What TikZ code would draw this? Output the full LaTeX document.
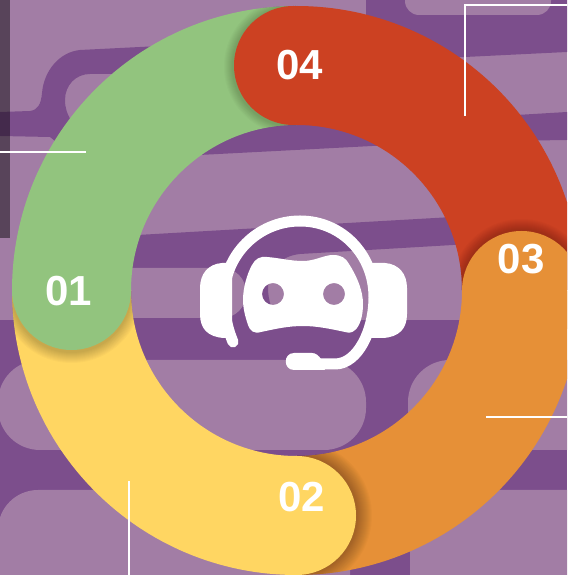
\documentclass[tikz,border=0pt]{standalone}
\usepackage{fontspec}
\setmainfont{Liberation Sans}
\definecolor{bgdark}{HTML}{7C4E8C}
\definecolor{bglight}{HTML}{A27DA5}
\definecolor{cgreen}{HTML}{92C47E}
\definecolor{cred}{HTML}{CC4122}
\definecolor{corange}{HTML}{E69037}
\definecolor{cyellow}{HTML}{FFD662}
\tikzset{
  imgpx/.style={yshift=575pt,yscale=-1},
  pill/.style={fill=bglight,draw=none,rounded corners=#1},
  dk/.style={fill=bgdark,draw=none},
  seg/.style={line width=119pt,line cap=butt},
  numlabel/.style={text=white,font=\fontsize{42}{42}\selectfont\bfseries,inner sep=0pt},
  whitehair/.style={draw=white,line width=1.4pt},
  icon/.style={fill=white,draw=none},
  iconline/.style={draw=white,line cap=round,line join=round}
}
\def\cx{296.5}\def\cy{284.5}\def\rm{225}
\newcommand{\capshadow}[5]{%
  \begin{scope}
    \clip ([shift={(\cx,\cy)}]#3:284.5) arc[start angle=#3,end angle=#4,radius=284.5]
      -- ([shift={(\cx,\cy)}]#4:165.5) arc[start angle=#4,end angle=#3,radius=165.5] -- cycle;
    \foreach \r in {1,...,#5}{\fill[black,opacity=0.02] (#1,#2) circle ({59.5+\r});}
  \end{scope}}
\begin{document}
\begin{tikzpicture}[x=1pt,y=1pt]
\useasboundingbox (0,0) rectangle (567,575);
\clip (0,0) rectangle (567,575);
\fill[bglight] (0,0) rectangle (567,575);
\begin{scope}[imgpx]
  % upper left winding band
  \fill[dk] (0,112) -- (30,111) .. controls (38,110) and (41,104) .. (42,93)
     .. controls (44,70) and (60,52) .. (80,50) -- (160,46) -- (170,74) -- (90,74)
     .. controls (76,74) and (65,85) .. (65,100) .. controls (65,108) and (67,114) .. (72,122)
     -- (60,145) -- (50,137) -- (0,136) -- cycle;
  % band just inside the ring, at the top
  \fill[dk] (180,120) -- (430,120) -- (430,143) -- (180,156) -- cycle;
  % upper right
  \fill[dk] (366,-5) -- (567,-5) -- (567,52) -- (465,57) -- (366,62) -- cycle;
  \fill[pill=14pt] (405,-30) rectangle (551,15);
  \fill[dk] (500,116) -- (567,112) -- (567,140) -- (500,141) -- cycle;
  % central band
  \fill[dk] (120,236) -- (470,216) -- (470,244) -- (300,254)
     .. controls (280,256) and (268,270) .. (268,288) .. controls (268,300) and (272,312) .. (280,325)
     -- (120,325) -- cycle;
  \fill[pill=24pt] (60,268) rectangle (246,318);
  % lower bands and pills
  \fill[dk] (0,320) rectangle (567,575);
  \fill[pill=42pt] (-2,360) rectangle (366,450);
  \fill[pill=42pt] (408,360) rectangle (660,450);
  \fill[pill=40pt] (-2,490) rectangle (350,640);
  \fill[pill=60pt] (410,490) rectangle (660,660);
  % dark strip at left
  \fill[black,opacity=0.45] (0,0) rectangle (10,238);
\end{scope}
% ring
\draw[seg,cgreen] (\cx-\rm,\cy) arc[start angle=180,end angle=90,radius=\rm];
\draw[seg,cred] (\cx,\cy+\rm) arc[start angle=90,end angle=0,radius=\rm];
\draw[seg,corange] (\cx+\rm,\cy) arc[start angle=0,end angle=-90,radius=\rm];
\draw[seg,cyellow] (\cx,\cy-\rm) arc[start angle=270,end angle=180,radius=\rm];
% soft shadows and round heads
\capshadow{\cx-4}{\cy+\rm-1}{180}{90}{9}
\fill[cred] (\cx-3,\cy+\rm) circle (59.5);
\capshadow{\cx+\rm}{\cy+1}{90}{0}{11}
\capshadow{\cx+1}{\cy-\rm}{0}{-90}{15}
\capshadow{\cx-\rm}{\cy-2}{270}{180}{11}
\fill[corange] (\cx+\rm,\cy) circle (59.5);
\fill[cyellow] (\cx,\cy-\rm) circle (59.5);
\fill[cgreen] (\cx-\rm,\cy) circle (59.5);
% hair lines
\begin{scope}[imgpx]
  \coordinate (h1a) at (0,152);   \coordinate (h1b) at (86,152);
  \coordinate (h2a) at (129,575); \coordinate (h2b) at (129,481);
  \coordinate (h3a) at (567,417); \coordinate (h3b) at (486,417);
  \coordinate (h4a) at (567,5);   \coordinate (h4b) at (465,5);  \coordinate (h4c) at (465,116);
\end{scope}
\draw[whitehair] (h1a) -- (h1b);
\draw[whitehair] (h2a) -- (h2b);
\draw[whitehair] (h3a) -- (h3b);
\draw[whitehair] (h4a) -- (h4b) -- (h4c);
% headset icon
\begin{scope}[imgpx]
  % ears
  \fill[icon] (232,263) -- (222,263) .. controls (208,264) and (200,274) .. (200,288)
     -- (200,314) .. controls (200,329) and (208,337) .. (224,338) -- (232,338) -- cycle;
  \fill[icon] (372,263) -- (385,263) .. controls (399,264) and (407,274) .. (407,288)
     -- (407,314) .. controls (407,329) and (399,337) .. (383,338) -- (370,338) -- cycle;
  % head band with tail
  \draw[iconline,line width=11pt] (233,342) .. controls (228,330) and (224,315) .. (224,297)
     .. controls (224,255) and (258,221) .. (300,221)
     .. controls (342,221) and (374,255) .. (374,297)
     .. controls (374,330) and (358,364) .. (335,364) -- (315,364);
  % microphone
  \fill[icon] (294,353) -- (312,353) .. controls (316,353) and (319,356) .. (321,359) -- (325,370)
     -- (294,370) .. controls (283,370) and (283,353) .. (294,353) -- cycle;
  % face with two eyes
  \fill[icon,even odd rule] (267,257) .. controls (280,258) and (290,261) .. (303,261)
     .. controls (315,261) and (324,255) .. (333,255)
     .. controls (341,255) and (346,258) .. (349,264)
     .. controls (358,278) and (363,292) .. (363,304)
     .. controls (363,316) and (360,326) .. (355,330)
     .. controls (352,333) and (349,333) .. (345,332)
     .. controls (331,329) and (317,326) .. (303,326)
     .. controls (288,326) and (275,329) .. (261,332)
     .. controls (254,334) and (250,331) .. (248,325)
     .. controls (245,316) and (243,308) .. (243,300)
     .. controls (243,288) and (247,274) .. (252,265)
     .. controls (255,259) and (260,256) .. (267,257) -- cycle
     (273,294) circle (11) (334,294) circle (11);
\end{scope}
% labels
\begin{scope}[imgpx]
  \coordinate (p1) at (69,291); \coordinate (p2) at (302,497);
  \coordinate (p3) at (521,259); \coordinate (p4) at (300,65);
\end{scope}
\node[numlabel] (n1) at (p1) {01};
\node[numlabel] (n2) at (p2) {02};
\node[numlabel] (n3) at (p3) {03};
\node[numlabel] (n4) at (p4) {04};
\end{tikzpicture}
\end{document}
